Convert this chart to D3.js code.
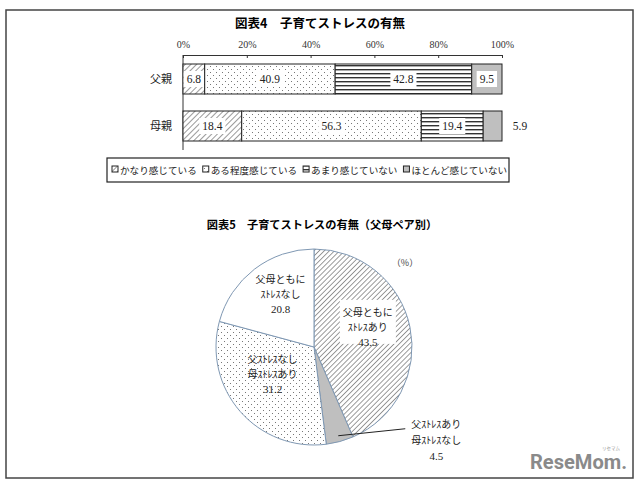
<!DOCTYPE html>
<html><head><meta charset="utf-8">
<script src="https://cdn.jsdelivr.net/npm/d3@7"></script>
<style>body{margin:0;background:#fff}svg{display:block}</style>
</head><body>
<svg id="c" width="640" height="485"></svg>
<script>
// ---- data ----
const barTitle = "図表4　子育てストレスの有無";
const barCategories = ["父親", "母親"];
const barSeries = ["かなり感じている", "ある程度感じている", "あまり感じていない", "ほとんど感じていない"];
const fatherValues = [6.8, 40.9, 42.8, 9.5];
const motherValues = [18.4, 56.3, 19.4, 5.9];
const xTicks = [0, 20, 40, 60, 80, 100];

const pieTitle = "図表5　子育てストレスの有無（父母ペア別）";
const pieLabels = [["父母ともに", "ｽﾄﾚｽあり"], ["父ｽﾄﾚｽあり", "母ｽﾄﾚｽなし"], ["父ｽﾄﾚｽなし", "母ｽﾄﾚｽあり"], ["父母ともに", "ｽﾄﾚｽなし"]];
const pieValues = [43.5, 4.5, 31.2, 20.8];

const svg = d3.select("#c");
const JP = "'Noto Sans CJK JP', 'Noto Sans', sans-serif";
const SERIF = "'Liberation Serif', 'DejaVu Serif', serif";

// ---- patterns ----
const defs = svg.append("defs");
function hatch(id, step, color, w) {
  const p = defs.append("pattern").attr("id", id).attr("patternUnits", "userSpaceOnUse")
    .attr("width", step).attr("height", step).attr("patternTransform", "rotate(45)");
  p.append("rect").attr("width", step).attr("height", step).attr("fill", "#fff");
  p.append("line").attr("x1", 0).attr("y1", 0).attr("x2", 0).attr("y2", step)
    .attr("stroke", color).attr("stroke-width", w);
}
hatch("hatchBar", 4, "#555", 1.2);
hatch("hatchPie", 3.6, "#666", 1.3);
function dots(id, s, r, color) {
  const p = defs.append("pattern").attr("id", id).attr("patternUnits", "userSpaceOnUse")
    .attr("width", s).attr("height", s);
  p.append("rect").attr("width", s).attr("height", s).attr("fill", "#fff");
  p.append("rect").attr("x", 0).attr("y", 0).attr("width", r).attr("height", r).attr("fill", color);
  p.append("rect").attr("x", s / 2).attr("y", s / 2).attr("width", r).attr("height", r).attr("fill", color);
}
dots("dotBar", 6, 1, "#777");
dots("dotPie", 6, 1, "#777");
(function () {
  const p = defs.append("pattern").attr("id", "hlines").attr("patternUnits", "userSpaceOnUse")
    .attr("width", 8).attr("height", 4);
  p.append("rect").attr("width", 8).attr("height", 4).attr("fill", "#fff");
  p.append("rect").attr("x", 0).attr("y", 1).attr("width", 8).attr("height", 1.4).attr("fill", "#333");
})();
const barFills = ["url(#hatchBar)", "url(#dotBar)", "url(#hlines)", "#bfbfbf"];

// ---- frame ----
svg.append("rect").attr("x", 6).attr("y", 10).attr("width", 627).attr("height", 468)
  .attr("fill", "none").attr("stroke", "#444").attr("stroke-width", 1.5);

// ---- bar chart ----
svg.append("text").attr("x", 320).attr("y", 28).attr("text-anchor", "middle")
  .attr("font-family", JP).attr("font-weight", "bold").attr("font-size", 12.5).text(barTitle);

const x = d3.scaleLinear().domain([0, 100]).range([183, 502]);
const y = d3.scalePoint().domain(barCategories).range([79, 126]);
const barH = 30;

const axis = svg.append("g").attr("transform", "translate(0,55)")
  .call(d3.axisTop(x).tickValues(xTicks).tickFormat(d => d + "%").tickSize(-3).tickPadding(7));
axis.selectAll("path,line").attr("stroke", "#333");
axis.selectAll("text").attr("font-family", SERIF).attr("font-size", 10).attr("fill", "#333");
svg.append("line").attr("x1", x(0)).attr("x2", x(0)).attr("y1", 55).attr("y2", 150).attr("stroke", "#333");

const rows = [fatherValues, motherValues];
rows.forEach((vals, ri) => {
  const cat = barCategories[ri];
  const cy = y(cat);
  let acc = 0;
  const g = svg.append("g");
  vals.forEach((v, i) => {
    const x0 = x(acc), x1 = x(acc + v);
    g.append("rect").attr("x", x0).attr("y", cy - barH / 2).attr("width", x1 - x0).attr("height", barH)
      .attr("fill", barFills[i]).attr("stroke", "#222").attr("stroke-width", 1);
    acc += v;
  });
  acc = 0;
  vals.forEach((v, i) => {
    const x0 = x(acc), x1 = x(acc + v);
    acc += v;
    const outside = v < 6;
    const tx = outside ? x(100) + 18 : (x0 + x1) / 2;
    const t = g.append("text").attr("x", tx).attr("y", cy + 4).attr("text-anchor", "middle")
      .attr("font-family", SERIF).attr("font-size", 11.5).attr("fill", "#222").text(v.toFixed(1));
    if (!outside) {
      const w = t.node().getComputedTextLength();
      g.insert("rect", () => t.node()).attr("x", tx - w / 2 - 3).attr("y", cy - 8).attr("width", w + 6)
        .attr("height", 16).attr("fill", "#fff");
    }
  });
  svg.append("text").attr("x", 172).attr("y", cy + 4).attr("text-anchor", "end")
    .attr("font-family", JP).attr("font-size", 11).attr("fill", "#222").text(cat);
});

// legend
svg.append("rect").attr("x", 107).attr("y", 158).attr("width", 402).attr("height", 24)
  .attr("fill", "#fff").attr("stroke", "#222").attr("stroke-width", 1.2);
let lx = 112;
barSeries.forEach((s, i) => {
  svg.append("rect").attr("x", lx).attr("y", 166).attr("width", 6).attr("height", 6)
    .attr("fill", barFills[i]).attr("stroke", "#222").attr("stroke-width", 1);
  const t = svg.append("text").attr("x", lx + 8).attr("y", 173.5).attr("font-family", JP)
    .attr("font-size", 9.6).attr("fill", "#222").text(s);
  lx += 8 + t.node().getComputedTextLength() + 6;
});

// ---- pie chart ----
svg.append("text").attr("x", 322).attr("y", 229).attr("text-anchor", "middle")
  .attr("font-family", JP).attr("font-weight", "bold").attr("font-size", 11.2).text(pieTitle);

const cx = 314, cyP = 347, R = 98;
const pieFills = ["url(#hatchPie)", "#bfbfbf", "url(#dotPie)", "#fff"];
const pie = d3.pie().sort(null).value(d => d)(pieValues);
const arc = d3.arc().innerRadius(0).outerRadius(R);
const labelArc = d3.arc().innerRadius(55).outerRadius(55);
const pg = svg.append("g").attr("transform", `translate(${cx},${cyP})`);
pg.selectAll("path").data(pie).join("path").attr("d", arc)
  .attr("fill", (d, i) => pieFills[i]).attr("stroke", "#7f98b3").attr("stroke-width", 1);

pie.forEach((d, i) => {
  const lines = pieLabels[i].concat([pieValues[i].toFixed(1)]);
  let px, py, step = 15;
  if (pieValues[i] < 10) {
    const mid = (d.startAngle + d.endAngle) / 2;
    const ex = Math.sin(mid) * (R - 6), ey = -Math.cos(mid) * (R - 6);
    pg.append("line").attr("x1", ex).attr("y1", ey).attr("x2", ex + 67).attr("y2", ey - 7)
      .attr("stroke", "#222").attr("stroke-width", 1);
    px = ex + 98; py = ey - 5; step = 16;
  } else {
    [px, py] = labelArc.centroid(d);
    py -= 17;
  }
  const tg = pg.append("g");
  if (i === 0) {
    tg.append("rect").attr("x", px - 28).attr("y", py - 19).attr("width", 56).attr("height", 44).attr("fill", "#fff");
  }
  lines.forEach((l, k) => {
    tg.append("text").attr("x", px).attr("y", py + k * step - 3).attr("text-anchor", "middle")
      .attr("font-family", k === 2 ? SERIF : JP).attr("font-size", k === 2 ? 11 : 10)
      .attr("fill", "#222").text(l);
  });
});

svg.append("text").attr("x", 405).attr("y", 266).attr("text-anchor", "middle")
  .attr("font-family", JP).attr("font-size", 9).attr("fill", "#444").text("（%）");

// watermark
svg.append("text").attr("x", 530).attr("y", 469).attr("font-family", "Roboto, sans-serif")
  .attr("font-weight", "bold").attr("font-size", 21).attr("fill", "#8a8a8a")
  .attr("textLength", 97).attr("lengthAdjust", "spacingAndGlyphs").text("ReseMom.");
svg.append("text").attr("x", 611).attr("y", 450).attr("text-anchor", "middle").attr("font-family", JP)
  .attr("font-size", 4.5).attr("fill", "#999").text("リセマム");
</script>
</body></html>
